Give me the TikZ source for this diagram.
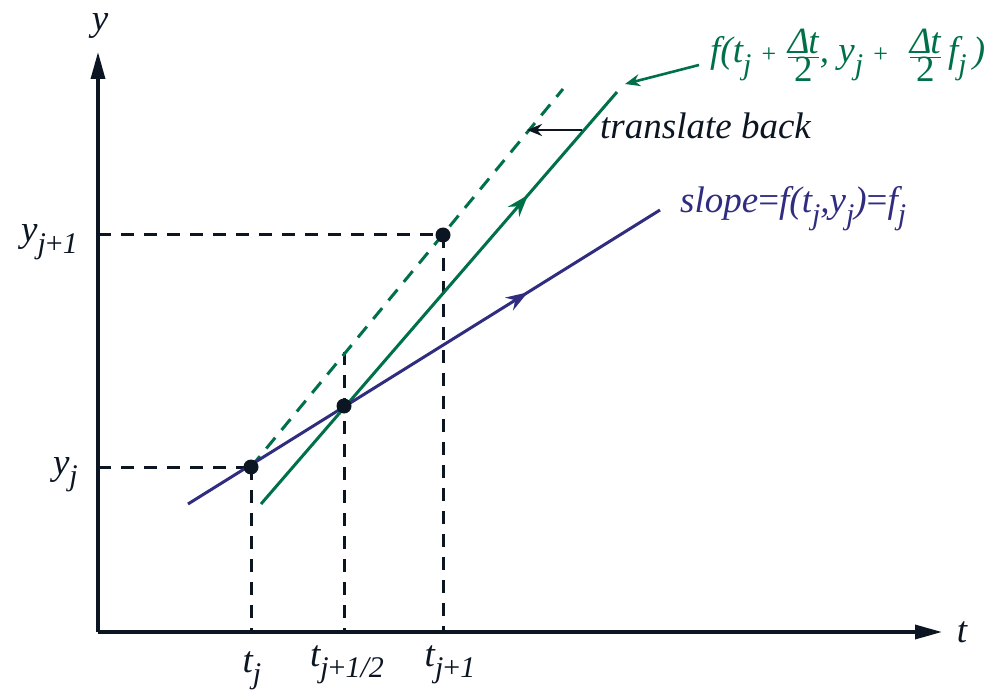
\documentclass[tikz,border=0pt]{standalone}
\usepackage{fontspec}
\setmainfont{Liberation Serif}
\usetikzlibrary{arrows.meta,decorations.markings}
\definecolor{gr}{RGB}{0,112,72}
\definecolor{bl}{RGB}{48,44,128}
\definecolor{ink}{RGB}{12,22,34}
\newcommand\lo[1]{\raisebox{-0.32em}{\fontsize{30}{34}\selectfont #1}}
\newcommand\pl{\;{\fontsize{26}{30}\selectfont\upshape +}\;}
\newcommand\dfr{$\frac{\hbox{Δ\kern-0.03em t}}{\hbox{\upshape 2}}$}
\begin{document}
\begin{tikzpicture}[x=1pt,y=-1pt,
  lbl/.style={font=\fontsize{37}{44}\selectfont\itshape, inner sep=0pt},
  axis/.style={ink, line width=3.4pt, -{Triangle[length=27pt,width=14pt]}},
  guide/.style={ink, line width=3pt, dash pattern=on 13pt off 10pt},
  gline/.style={gr, line width=3pt},
  bline/.style={bl, line width=3pt},
  midarrow/.style={postaction={decorate}, decoration={markings,
     mark=at position #1 with {\arrow{Stealth[length=22pt,width=15pt]}}}},
  dot/.style={circle, fill=ink, inner sep=0pt, minimum size=15pt},
  pointer/.style={line width=2.6pt, -{Stealth[length=15pt,width=12pt]}}]
\useasboundingbox (0,0) rectangle (1008,700);
% axes
\coordinate (O) at (98,632);
\coordinate (Ytop) at (98,52);
\coordinate (Tend) at (942,632);
\draw[axis] (O) -- (Ytop);
\draw[axis] (O) -- (Tend);
\node[lbl, ink, anchor=base] (ylab) at (100,31) {y};
\node[lbl, ink] (tlab) at (962,632) {t};
% key points
\coordinate (P0) at (251,467);
\coordinate (P1) at (344,406);
\coordinate (P2) at (443,235);
\coordinate (Ya) at (98,235);
\coordinate (Yb) at (98,467);
\coordinate (T0) at (251,632);
\coordinate (T1) at (344,632);
\coordinate (T2) at (443,632);
\coordinate (Mtop) at (344,352);
% guide lines
\draw[guide] (Ya) -- (P2);
\draw[guide] (Yb) -- (P0);
\draw[guide] (P0) -- (T0);
\draw[guide] (Mtop) -- (T1);
\draw[guide] (P2) -- (T2);
% lines
\coordinate (B0) at (188,504);
\coordinate (B1) at (660,210);
\coordinate (G0) at (261,504);
\coordinate (G1) at (617,92);
\coordinate (D1) at (563,89);
\draw[gline, dash pattern=on 14pt off 10pt] (P0) -- (D1);
\draw[gline, midarrow=0.75] (G0) -- (G1);
\draw[bline, midarrow=0.72] (B0) -- (B1);
% dots
\node[dot] (d0) at (P0) {};
\node[dot] (d1) at (P1) {};
\node[dot] (d2) at (P2) {};
% axis labels
\node[lbl, ink, anchor=base east] (yj1) at (78,242) {y\lo{j{\upshape+}1}};
\node[lbl, ink, anchor=base east] (yj) at (78,474) {y\lo{j}};
\node[lbl, ink, anchor=base] (tj) at (252,672) {t\lo{j}};
\node[lbl, ink, anchor=base] (th) at (347,666) {t\lo{j{\upshape+}1/2}};
\node[lbl, ink, anchor=base] (t1) at (450,666) {t\lo{j{\upshape+}1}};
% annotations
\node[lbl, bl, anchor=base west] (slope) at (680,213) {slope{\upshape=}f(t\lo{j},y\lo{j}){\upshape=}f\lo{j}};
\node[lbl, ink, anchor=base west] (tb) at (600,139) {translate back};
\coordinate (tbs) at (582,130);
\coordinate (tbe) at (527,130);
\draw[pointer, ink] (tbs) -- (tbe);
\node[lbl, gr, anchor=base west] (fl) at (710,63) {f(t\lo{j}\pl\dfr, y\lo{j}\pl\;\dfr\,f\lo{j}\,)};
\coordinate (fs) at (699,65);
\coordinate (fe) at (625,84);
\draw[pointer, gr] (fs) -- (fe);
\end{tikzpicture}
\end{document}
